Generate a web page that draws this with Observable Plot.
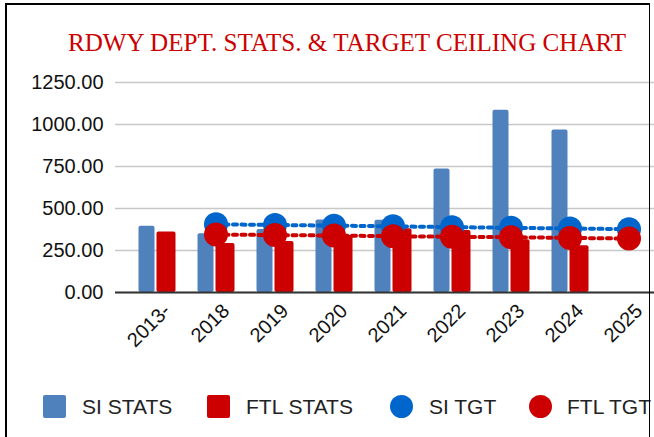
<!DOCTYPE html>
<html><head><meta charset="utf-8">
<script src="https://cdn.jsdelivr.net/npm/d3@7"></script>
<script src="https://cdn.jsdelivr.net/npm/@observablehq/plot@0.6"></script>
<style>
body{margin:0;background:#fff;}
#wrap{position:relative;width:654px;height:437px;overflow:hidden;font-family:"Liberation Sans",Arial,sans-serif;background:#fff;}
#frame{position:absolute;left:5px;top:3px;height:440px;border-top:2.5px solid #000;border-left:2px solid #000;border-right:1.5px solid #000;box-sizing:border-box;width:645px;}
#title{position:absolute;left:68px;top:29.5px;line-height:25px;font-family:"Liberation Serif","Times New Roman",serif;font-size:25.1px;color:#cc0000;white-space:nowrap;}
#chart{position:absolute;left:0;top:60px;}
.sw{position:absolute;top:395px;width:23px;height:23px;border-radius:2px;}
.ci{position:absolute;top:395px;width:23px;height:23px;border-radius:50%;}
.lt{position:absolute;top:395.5px;font-size:21px;line-height:21px;color:#222;white-space:nowrap;}
</style>
</head><body>
<div id="wrap">
  <div id="title">RDWY DEPT. STATS. &amp; TARGET CEILING CHART</div>
  <div id="chart"></div>
  <div id="legend"></div>
  <div id="frame"></div>
</div>
<script>
const cats = ["2013-","2018","2019","2020","2021","2022","2023","2024","2025"];
const siStats = [395, 350, 375, 432, 430, 735, 1085, 968, null];
const ftlStats = [360, 292, 303, 339, 379, 369, 314, 278, null];
const siTgt = [null, 406, 402, 398, 394, 389, 385, 381, 377];
const ftlTgt = [null, 345, 342, 339, 335, 332, 329, 325, 321];
const yTicks = [0, 250, 500, 750, 1000, 1250];
const seriesNames = ["SI STATS", "FTL STATS", "SI TGT", "FTL TGT"];
const colors = {si: "#4f81bd", ftl: "#cc0000", siT: "#0066cc", ftlT: "#cc0000"};

const data = cats.map((c, i) => ({cat: c, si: siStats[i], ftl: ftlStats[i], siT: siTgt[i], ftlT: ftlTgt[i]}));
const has = k => data.filter(d => d[k] != null);

const chart = Plot.plot({
  width: 654, height: 320,
  marginTop: 22, marginBottom: 88, marginLeft: 115, marginRight: 0,
  style: {fontFamily: "Liberation Sans, Arial, sans-serif", fontSize: "20px", color: "#111", background: "transparent"},
  x: {type: "band", domain: cats, range: [126.5, 657.5], padding: 0, label: null},
  y: {domain: [0, 1250], label: null},
  marks: [
    Plot.gridY(yTicks, {stroke: "#c8c8c8", strokeOpacity: 1, strokeWidth: 1.5}),
    Plot.axisY(yTicks, {tickSize: 0, tickPadding: 12, tickFormat: d3.format(".2f"), label: null}),
    Plot.axisX({tickSize: 0, tickRotate: -45, tickPadding: 15, dx: 10, label: null}),
    Plot.barY(has("si"), {x: "cat", y: "si", fill: colors.si, insetLeft: 11.5, insetRight: 31.5, rx: 2}),
    Plot.barY(has("ftl"), {x: "cat", y: "ftl", fill: colors.ftl, insetLeft: 29.5, insetRight: 10.5, rx: 2}),
    Plot.ruleY([0], {stroke: "#333", strokeWidth: 2}),
    Plot.line(has("siT"), {x: "cat", y: "siT", stroke: colors.siT, strokeWidth: 4, strokeDasharray: "4,4.5"}),
    Plot.line(has("ftlT"), {x: "cat", y: "ftlT", stroke: colors.ftlT, strokeWidth: 4, strokeDasharray: "4,4.5"}),
    Plot.dot(has("siT"), {x: "cat", y: "siT", r: 12, fill: colors.siT}),
    Plot.dot(has("ftlT"), {x: "cat", y: "ftlT", r: 12, fill: colors.ftlT})
  ]
});
document.getElementById("chart").appendChild(chart);

const legend = document.getElementById("legend");
const items = [
  {name: seriesNames[0], color: colors.si, shape: "sw", x: 43, tx: 82},
  {name: seriesNames[1], color: colors.ftl, shape: "sw", x: 207, tx: 246},
  {name: seriesNames[2], color: colors.siT, shape: "ci", x: 390, tx: 429},
  {name: seriesNames[3], color: colors.ftlT, shape: "ci", x: 529, tx: 567}
];
for (const it of items) {
  const s = document.createElement("div");
  s.className = it.shape; s.style.left = it.x + "px"; s.style.background = it.color;
  legend.appendChild(s);
  const t = document.createElement("div");
  t.className = "lt"; t.style.left = it.tx + "px"; t.textContent = it.name;
  legend.appendChild(t);
}
</script>
</body></html>
